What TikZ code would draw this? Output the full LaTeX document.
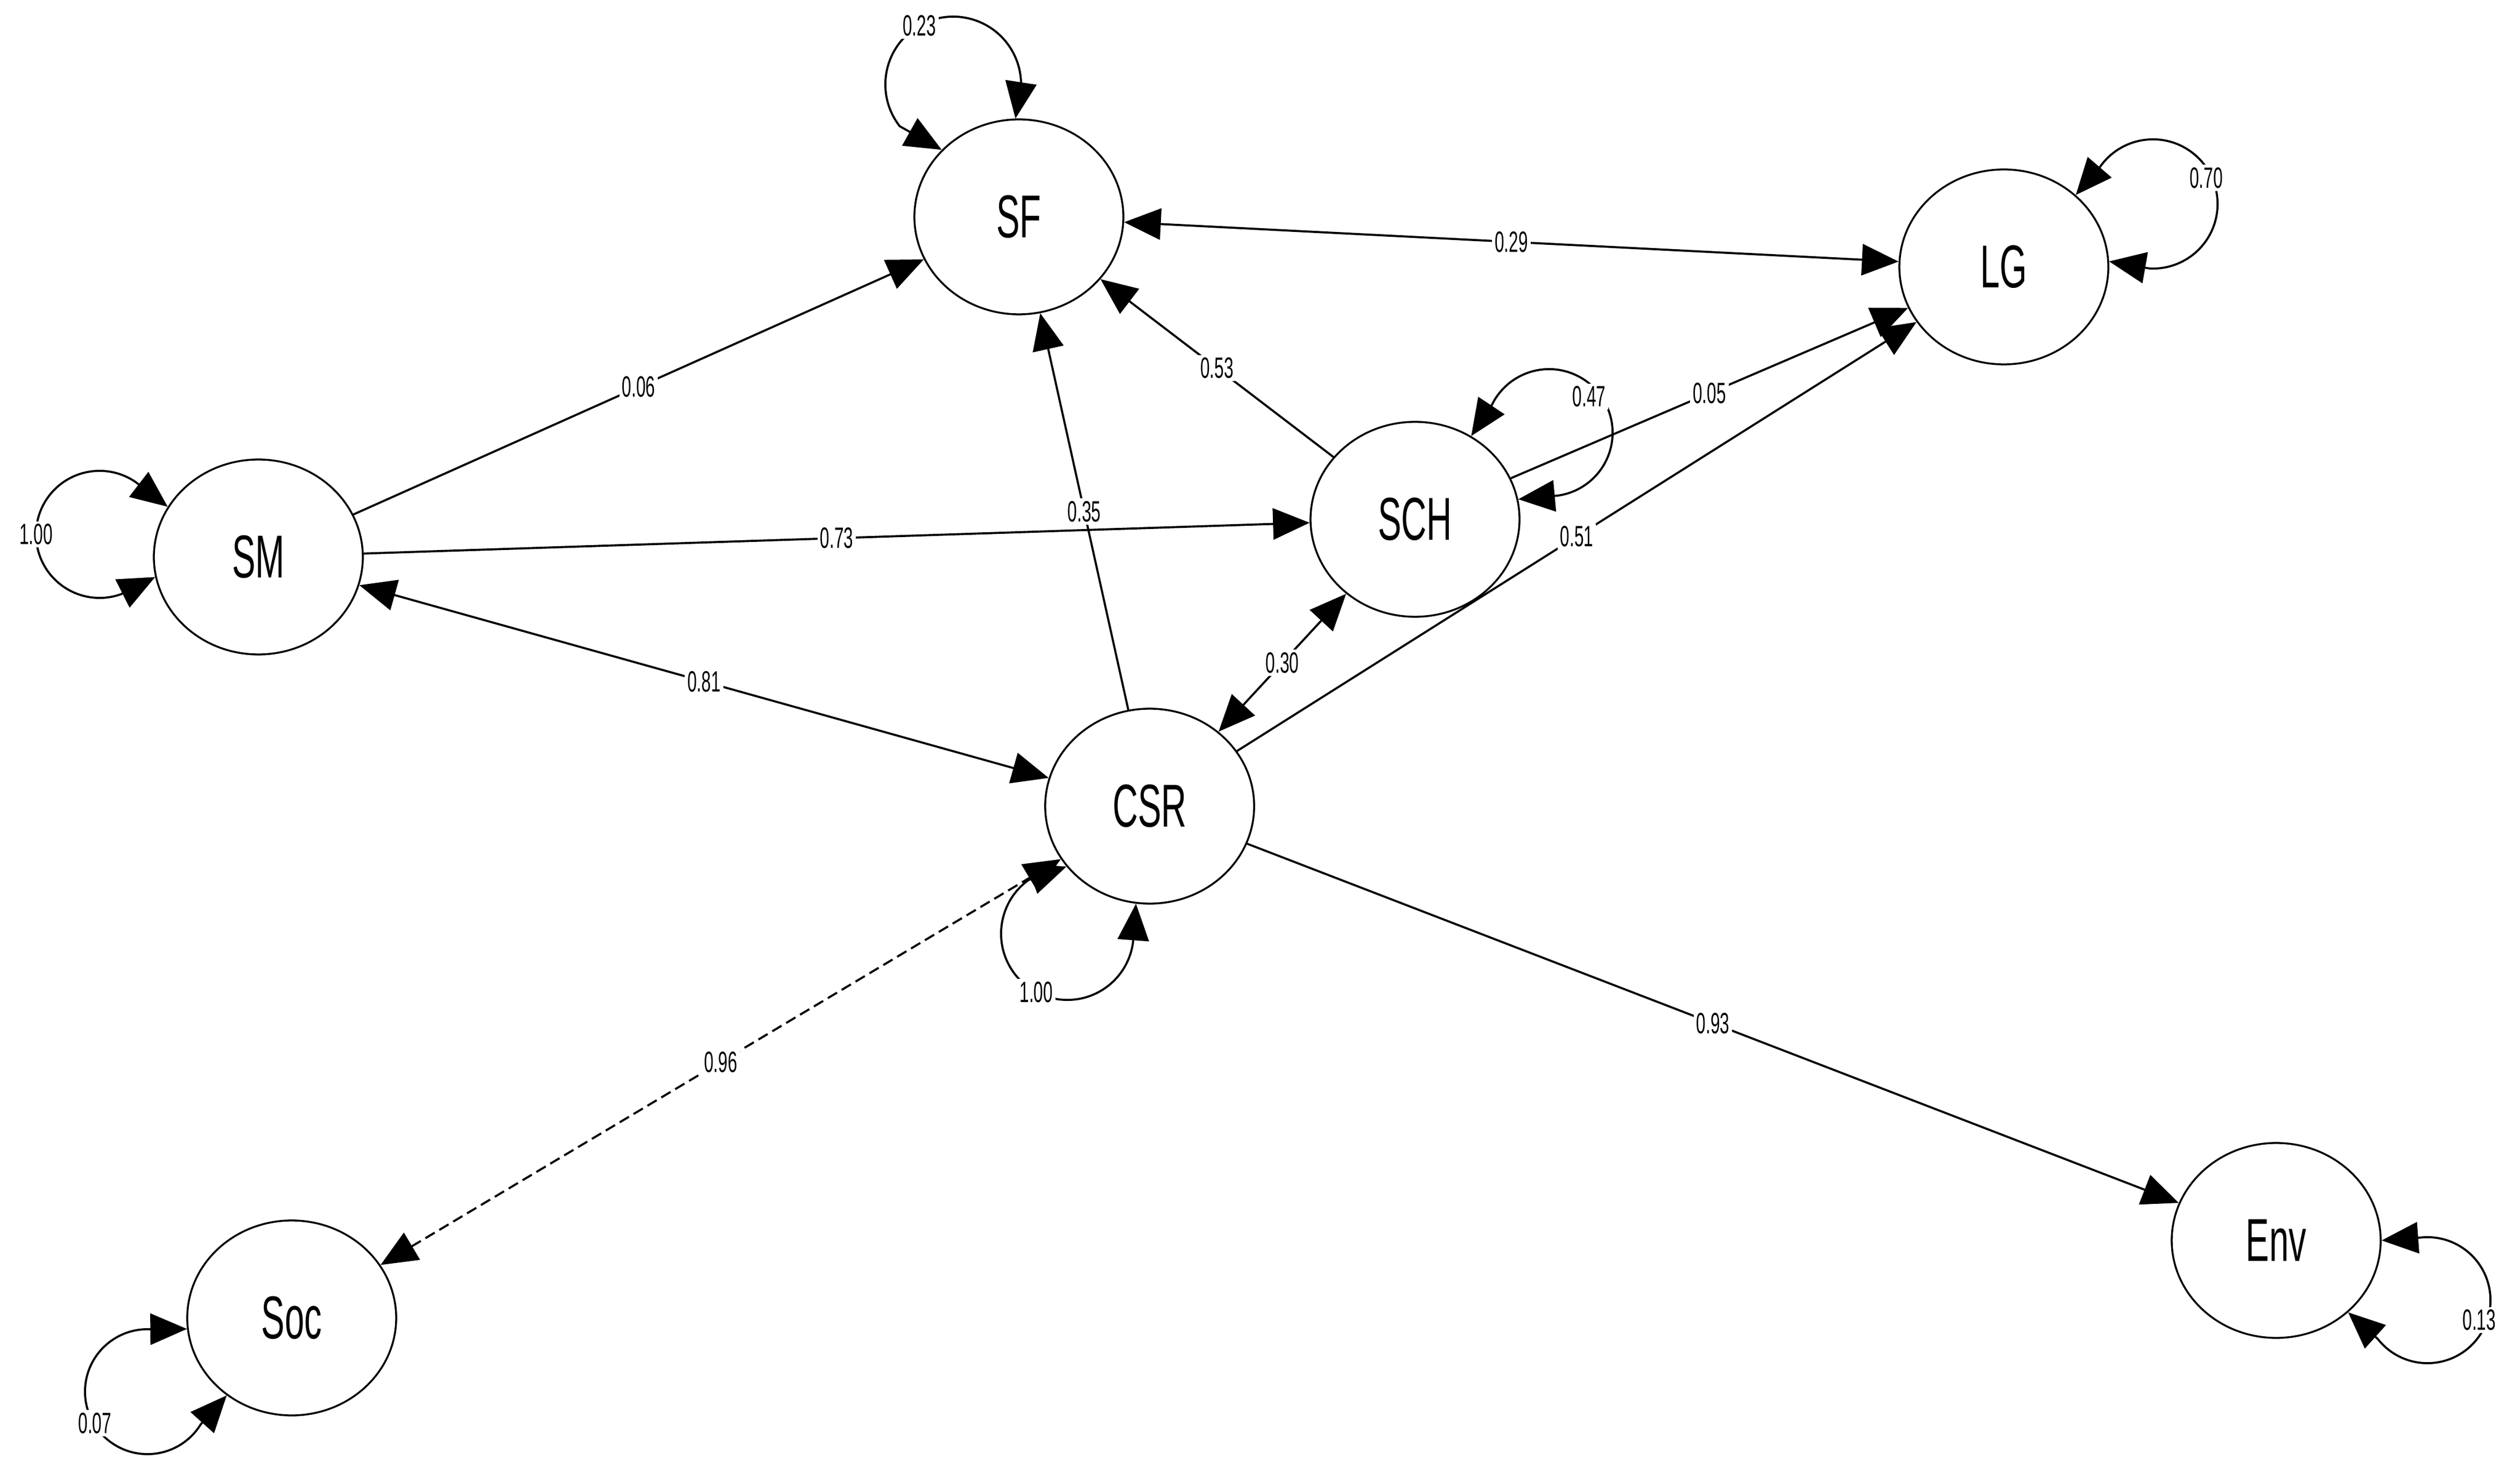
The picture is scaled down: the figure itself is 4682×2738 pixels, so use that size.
\documentclass[tikz,border=0pt]{standalone}
\usepackage{fontspec}
\setmainfont[FakeStretch=0.58]{Liberation Sans}
\usetikzlibrary{arrows.meta,shapes.geometric,calc}
\begin{document}
\begin{tikzpicture}[x=0.01cm,y=0.01cm,
  lat/.style={draw, ellipse, line width=1pt, minimum width=3.88cm, minimum height=3.62cm, inner sep=0pt, font=\fontsize{32}{32}\selectfont},
  tipA/.tip={Triangle[length=0.68cm,width=0.58cm]},
  conn/.style={line width=1.1pt, -tipA},
  bi/.style={line width=1.1pt, tipA-tipA},
  lbl/.style={fill=white, inner sep=0.05cm, font=\fontsize{15.5}{15.5}\selectfont}]
\useasboundingbox (0,0) rectangle (4682,2738);

% latent variables
\node[lat] (SF)  at (1893,2335) {SF};
\node[lat] (LG)  at (3723,2242) {LG};
\node[lat] (SM)  at (480,1703)  {SM};
\node[lat] (SCH) at (2629,1773) {SCH};
\node[lat] (CSR) at (2136,1240) {CSR};
\node[lat] (Soc) at (542,289)   {Soc};
\node[lat] (Env) at (4229,433)  {Env};

% paths
\draw[conn] (CSR) -- node[lbl]{0.35} (SF);
\draw[conn] (SM) -- node[lbl]{0.06} (SF);
\draw[conn] (SM) -- node[lbl]{0.73} (SCH);
\draw[bi] (SM) -- node[lbl]{0.81} (CSR);
\draw[bi] (SF) -- node[lbl]{0.29} (LG);
\draw[conn] (SCH) -- node[lbl]{0.53} (SF);
\draw[conn] (SCH) -- node[lbl]{0.05} (LG);
\draw[conn] (CSR) -- node[lbl]{0.51} (LG);
\draw[bi] (CSR) -- node[lbl]{0.30} (SCH);
\draw[conn] (CSR) -- node[lbl]{0.93} (Env);
\draw[bi, dash pattern=on 0.2cm off 0.1cm] (Soc) -- node[lbl]{0.96} (CSR);

% variance loops
\coordinate (cSF) at (1771,2581);
\draw[bi] (SF.139) -- ($(cSF)+(218:1.26cm)$) arc[start angle=218, end angle=2, radius=1.26cm] -- (SF.92);
\node[lbl] (lSF) at ($(cSF)+(120:1.26cm)$) {0.23};

\coordinate (cSM) at (185,1745);
\draw[bi] (SM.151) -- ($(cSM)+(55:1.18cm)$) arc[start angle=55, end angle=290, radius=1.18cm] -- (SM.191);
\node[lbl] (lSM) at ($(cSM)+(180:1.18cm)$) {1.00};

\coordinate (cCSR) at (1983,1003);
\draw[bi] (CSR.216) -- ($(cCSR)+(126:1.23cm)$) arc[start angle=126, end angle=354, radius=1.23cm] -- (CSR.262);
\node[lbl] (lCSR) at ($(cCSR)+(242:1.23cm)$) {1.00};

\coordinate (cSoc) at (274,152);
\draw[bi] (Soc.186) -- ($(cSoc)+(90:1.16cm)$) arc[start angle=90, end angle=328.5, radius=1.16cm] -- (Soc.230);
\node[lbl] (lSoc) at ($(cSoc)+(211:1.14cm)$) {0.07};

\coordinate (cEnv) at (4510,322);
\draw[bi] (Env.0) -- ($(cEnv)+(96:1.17cm)$) arc[start angle=96, end angle=-142, radius=1.17cm] -- (Env.315);
\node[lbl] (lEnv) at ($(cEnv)+(-21:1.03cm)$) {0.13};

\coordinate (cLG) at (4000,2359);
\draw[bi] (LG.45) -- ($(cLG)+(145:1.2cm)$) arc[start angle=145, end angle=-93, radius=1.2cm] -- (LG.3);
\node[lbl] (lLG) at ($(cLG)+(26:1.1cm)$) {0.70};

\coordinate (cSCH) at (2878,1934);
\draw[bi] (SCH.56) -- ($(cSCH)+(154:1.18cm)$) arc[start angle=154, end angle=-82, radius=1.18cm] -- (SCH.11);
\node[lbl] (lSCH) at ($(cSCH)+(42:1.0cm)$) {0.47};
\end{tikzpicture}
\end{document}
